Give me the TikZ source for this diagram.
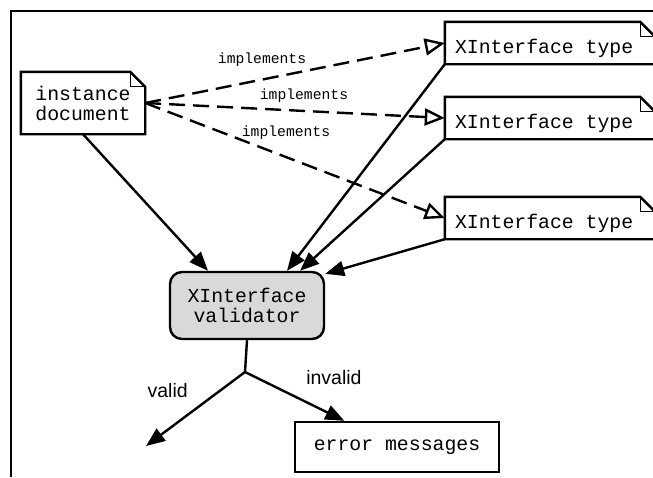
\documentclass[tikz,border=0pt]{standalone}
\usepackage{fontspec}
\setmainfont{Liberation Sans}
\setmonofont{Liberation Mono}
\usetikzlibrary{arrows.meta}
\usetikzlibrary{calc}

\tikzset{
  doc/.style={font=\ttfamily\fontsize{19.8pt}{20pt}\selectfont, align=center},
  notebox/.style={doc, minimum height=42pt, text width=190pt, align=justify, inner xsep=10pt, text height=20pt, text depth=0pt},
  implabel/.style={font=\ttfamily\fontsize{14.7pt}{15pt}\selectfont, inner sep=0pt},
  flowlabel/.style={font=\fontsize{19.5pt}{20pt}\selectfont},
  uses/.style={line width=2.4pt, -{Triangle[length=19pt, width=15pt]}},
  realizes/.style={line width=2.4pt, dash pattern=on 16pt off 8pt, -{Triangle[open, length=20pt, width=17pt, fill=white]}},
}

\begin{document}
\begin{tikzpicture}[x=1pt, y=-1pt]
            \useasboundingbox (0, 0) rectangle (653, 477);
            \clip (0, 0) rectangle (653, 477);

            \coordinate (fork) at (245, 372);
            \coordinate (sink) at (146, 446);

            \node[doc, minimum width=124pt, minimum height=62pt] (inst) at (83, 103) {instance\\document};
            \node[notebox] (typeA) at (550, 43) {XInterface type};
            \node[notebox] (typeB) at (550, 118) {XInterface type};
            \node[notebox] (typeC) at (550, 218) {XInterface type};
            \node[doc, draw, line width=2.4pt, rounded corners=12pt, fill=black!15, minimum width=154pt, minimum height=67pt] (val) at (247, 305.5) {XInterface\\validator};
            \node[doc, draw, line width=2.4pt, minimum width=204pt, minimum height=50pt] (err) at (397, 447) {error messages};

            % page frame
            \draw [line width=2.4pt] (11, 477) -- (11, 11) -- (653, 11);

            % dog-eared outlines
            \foreach \n in {inst, typeA, typeB, typeC} {
                \draw [line width=2.4pt, line join=miter] (\n.south west) -- (\n.north west) -- ([xshift=-15pt]\n.north east) -- ([yshift=-15pt]\n.north east) -- (\n.south east) -- cycle;
                \draw [line width=1.2pt] ([xshift=-15pt]\n.north east) -- ([xshift=-15pt, yshift=-15pt]\n.north east) -- ([yshift=-15pt]\n.north east);
            }

            \draw [realizes] (inst.east) -- node[implabel, above = 12pt, pos = 0.39]{implements} (typeA.west);
            \draw [realizes] (inst.east) -- node[implabel, above = 7pt, pos = 0.53]{implements} (typeB.west);
            \draw [realizes] (inst.east) -- node[implabel, above = 16pt, pos = 0.47]{implements} (typeC.west);

            \draw [uses] (inst.south) -- ([xshift=-39pt]val.north);
            \draw [uses] (typeA.south west) -- ([xshift=40pt]val.north);
            \draw [uses] (typeB.south west) -- ([xshift=53pt]val.north);
            \draw [uses] (typeC.south west) -- ([yshift=-3pt]val.north east);

            \draw [line width=2.4pt] (val.south) -- (fork);
            \draw [uses] (fork) -- node[flowlabel, left = 28pt, pos = 0.25]{valid} (sink);
            \draw [uses] (fork) -- node[flowlabel, anchor = south west, pos = 0.45, xshift = 12pt, yshift = 5pt]{invalid} ($(err.north west)!0.245!(err.north east)$);
        \end{tikzpicture}
\end{document}
